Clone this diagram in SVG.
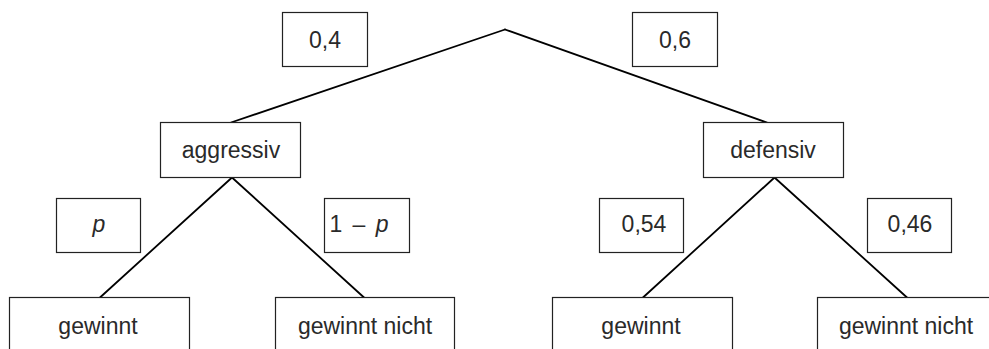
<svg xmlns="http://www.w3.org/2000/svg" width="989" height="349" viewBox="0 0 989 349">
<style>
.box{fill:#fff;stroke:#222;stroke-width:1.2}
.edge{stroke:#000;stroke-width:1.8;fill:none;stroke-linecap:round}
text{font-family:"Liberation Sans",Arial,sans-serif;font-size:23px;fill:#2a2a2a;text-anchor:middle}
.it{font-style:italic}
</style>
<rect width="989" height="349" fill="#fff"/>
<g id="connectors">
<line class="edge" x1="505" y1="29.5" x2="231" y2="122.5"/>
<line class="edge" x1="505" y1="29.5" x2="767" y2="122.5"/>
<line class="edge" x1="232" y1="177.5" x2="100" y2="297.5"/>
<line class="edge" x1="232" y1="177.5" x2="364" y2="297.5"/>
<line class="edge" x1="774.5" y1="177.5" x2="643" y2="297.5"/>
<line class="edge" x1="774.5" y1="177.5" x2="907" y2="297.5"/>
</g>
<g id="label-04"><rect class="box" x="282.5" y="12.5" width="85" height="54"/><text x="325" y="48">0,4</text></g>
<g id="label-06"><rect class="box" x="632.5" y="12.5" width="85" height="54"/><text x="675" y="48">0,6</text></g>
<g id="aggressiv"><rect class="box" x="160.5" y="122.5" width="140" height="55"/><text x="231" y="158">aggressiv</text></g>
<g id="defensiv"><rect class="box" x="703.5" y="122.5" width="140" height="55"/><text x="773" y="158">defensiv</text></g>
<g id="label-p"><rect class="box" x="56.5" y="198.5" width="84" height="54"/><text class="it" x="99" y="232">p</text></g>
<g id="label-1mp"><rect class="box" x="324.5" y="198.5" width="85" height="54"/><text x="359" y="232" word-spacing="4">1 – <tspan class="it">p</tspan></text></g>
<g id="label-054"><rect class="box" x="599.5" y="198.5" width="84" height="54"/><text x="644" y="232">0,54</text></g>
<g id="label-046"><rect class="box" x="867.5" y="198.5" width="84" height="54"/><text x="910" y="232">0,46</text></g>
<g id="a-gewinnt"><rect class="box" x="9.5" y="297.5" width="180" height="60"/><text x="98" y="334">gewinnt</text></g>
<g id="a-gewinnt-nicht"><rect class="box" x="275.5" y="297.5" width="179" height="60"/><text x="365" y="334">gewinnt nicht</text></g>
<g id="d-gewinnt"><rect class="box" x="552.5" y="297.5" width="180" height="60"/><text x="641" y="334">gewinnt</text></g>
<g id="d-gewinnt-nicht"><rect class="box" x="817.5" y="297.5" width="180" height="60"/><text x="906" y="334">gewinnt nicht</text></g>
</svg>
